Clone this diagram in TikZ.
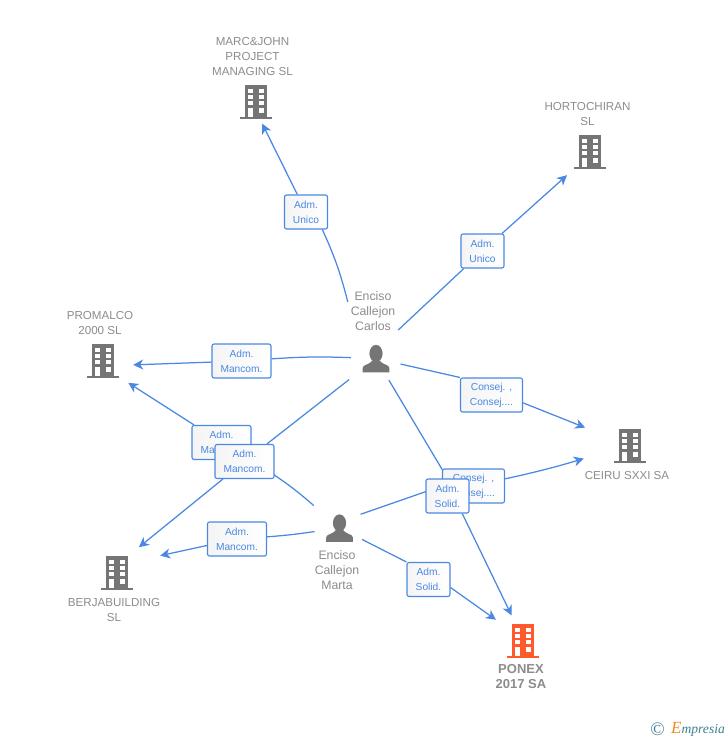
\documentclass[tikz,border=0pt]{standalone}
\usepackage{fontspec}
\setmainfont{Liberation Sans}
\newfontfamily\logofont{Liberation Serif}
\usepackage{xcolor}
\usetikzlibrary{arrows.meta,backgrounds}
\definecolor{linkblue}{HTML}{4A88E2}
\definecolor{icongrey}{HTML}{757575}
\definecolor{namegrey}{HTML}{8C8C8C}
\definecolor{ponexred}{HTML}{FF5A2B}
\definecolor{logoteal}{HTML}{3C7F92}
\definecolor{logoorange}{HTML}{F28A1E}
\tikzset{
  hub/.style={circle,minimum size=2*#1,inner sep=0pt},
  link/.style={draw=linkblue,line width=1.25pt},
  arrowlink/.style={link,-{Stealth[length=10pt,width=10pt,inset=3pt]}},
  role/.style={rectangle,rounded corners=2pt,draw=linkblue,line width=1.1pt,left color=blue!5!gray!8,right color=white,
    text=linkblue,font=\fontsize{10.2}{15}\selectfont,align=center,minimum height=34pt,inner sep=0pt},
  company/.style={text=namegrey,font=\fontsize{11.6}{15}\selectfont,align=center,inner sep=0pt},
  person/.style={text=namegrey,font=\fontsize{12.3}{15}\selectfont,align=center,inner sep=0pt,outer sep=3pt},
  building/.pic={
    \fill[pic actions] (-11,-17) rectangle (11,15);
    \fill[pic actions] (-16,15) rectangle (16,17);
    \foreach \yy in {-13,-7,-1}{
      \fill[white] (-8,\yy) rectangle (-3,\yy+4);
      \fill[white] (3,\yy) rectangle (8,\yy+4);
    }
    \fill[white] (-8,6) rectangle (-3,15);
    \fill[white] (3,6) rectangle (8,11);
  },
  personicon/.pic={
    \fill[pic actions] (0,-5) ellipse (6.6 and 8.6);
    \fill[pic actions] (-13.4,13.8) -- (-13.4,9.5) .. controls (-13.4,6) and (-6,6) .. (-3.5,2)
      -- (3.5,2) .. controls (6,6) and (13.4,6) .. (13.4,9.5) -- (13.4,13.8) -- cycle;
  }
}
\begin{document}
\begin{tikzpicture}[x=1pt,y=-1pt]
  \useasboundingbox (0,0) rectangle (728,740);

  % anchors for the connectors
  \node[hub=25] (carlos) at (376,358.5) {};
  \node[hub=25] (marta) at (339.5,528) {};
  \node[hub=24] (marc) at (251.5,102) {};
  \node[hub=30] (horto) at (589.5,155) {};
  \node[hub=31] (promalco) at (102,366) {};
  \node[hub=47] (ceiru) at (629,445) {};
  \node[hub=28] (berja) at (117,565) {};
  \node[hub=26] (ponex) at (523,639) {};

  % icons
  \pic[fill=icongrey] at (255.5,102) {building};
  \pic[fill=icongrey] at (589.5,152) {building};
  \pic[fill=icongrey] at (102.5,361) {building};
  \pic[fill=icongrey] at (629.5,446) {building};
  \pic[fill=icongrey] at (117,573) {building};
  \pic[fill=ponexred] at (523,641) {building};
  \pic[fill=icongrey] at (376,358.5) {personicon};
  \pic[fill=icongrey] at (339.5,528) {personicon};

  % names
  \node[company] (marc_name) at (252.5,56.5) {MARC\&JOHN\\PROJECT\\MANAGING SL};
  \node[company] (horto_name) at (587.5,114) {HORTOCHIRAN\\SL};
  \node[company] (promalco_name) at (100,323) {PROMALCO\\2000 SL};
  \node[company] (ceiru_name) at (627,475.5) {CEIRU SXXI SA};
  \node[company] (berja_name) at (114,610) {BERJABUILDING\\SL};
  \node[company,font=\fontsize{13}{15}\selectfont\bfseries] (ponex_name) at (521,677) {PONEX\\2017 SA};
  \node[person] (carlos_name) at (373,311) {Enciso\\Callejon\\Carlos};
  \node[person] (marta_name) at (337,570) {Enciso\\Callejon\\Marta};

  % roles
  \node[role,minimum width=43pt] (unico_marc) at (306,212) {Adm.\\Unico};
  \node[role,minimum width=43pt] (unico_horto) at (482.5,251) {Adm.\\Unico};
  \node[role,minimum width=59pt] (manc_carlos_prom) at (241.5,361) {Adm.\\Mancom.};
  \node[role,minimum width=62pt] (consej_carlos) at (491.5,395) {Consej. ,\\Consej....};
  \node[role,minimum width=59pt] (manc_marta_prom) at (221.5,442.5) {Adm.\\Mancom.};
  \node[role,minimum width=59pt] (manc_carlos_berja) at (244.5,461.5) {Adm.\\Mancom.};
  \node[role,minimum width=59pt] (manc_marta_berja) at (237,539) {Adm.\\Mancom.};
  \node[role,minimum width=62pt] (consej_marta) at (473.5,486) {Consej. ,\\Consej....};
  \node[role,minimum width=43pt] (solid_carlos) at (447.5,496) {Adm.\\Solid.};
  \node[role,minimum width=43pt] (solid_marta) at (428.5,579.5) {Adm.\\Solid.};

  % logo
  \node[text=logoteal,inner sep=0pt,font=\logofont\fontsize{19}{19}\selectfont] (logo_mark) at (657.5,729) {\textcopyright};
  \node[text=logoteal,inner sep=0pt,anchor=base west,font=\logofont\fontsize{13.6}{15}\selectfont\itshape] (logo_text) at (671,733)
    {\textcolor{logoorange}{\fontsize{17}{15}\selectfont E}mpresia};

  \begin{scope}[on background layer]
    \draw[link] (carlos_name.160) to[bend right=5] (unico_marc.-47);
    \draw[arrowlink] (unico_marc) -- (marc);
    \draw[link] (carlos_name.-37) -- (unico_horto);
    \draw[arrowlink] (unico_horto) -- (horto);
    \draw[link] (carlos) to[bend right=3] (manc_carlos_prom);
    \draw[arrowlink] (manc_carlos_prom) -- (promalco);
    \draw[link] (carlos) -- (consej_carlos.north west);
    \draw[arrowlink] (consej_carlos.-14.5) -- (ceiru);
    \draw[link,shorten <=9pt] (marta) to[bend right=5] (manc_marta_prom);
    \draw[arrowlink] (manc_marta_prom) -- (promalco);
    \draw[link,shorten <=9pt] (carlos) -- (manc_carlos_berja);
    \draw[arrowlink] (manc_carlos_berja) -- (berja);
    \draw[link] (marta) to[bend left=2] (manc_marta_berja);
    \draw[arrowlink,shorten >=16pt] (manc_marta_berja) -- (berja);
    \draw[link] (marta.33) -- (consej_marta.west);
    \draw[arrowlink] (consej_marta) to[bend right=2] (ceiru);
    \draw[link] (carlos) -- (solid_carlos.north);
    \draw[arrowlink] (solid_carlos.-50) -- (ponex);
    \draw[link] (marta) -- (solid_marta.north west);
    \draw[arrowlink,shorten >=7pt] (solid_marta.-20) -- (ponex);
  \end{scope}
\end{tikzpicture}
\end{document}
